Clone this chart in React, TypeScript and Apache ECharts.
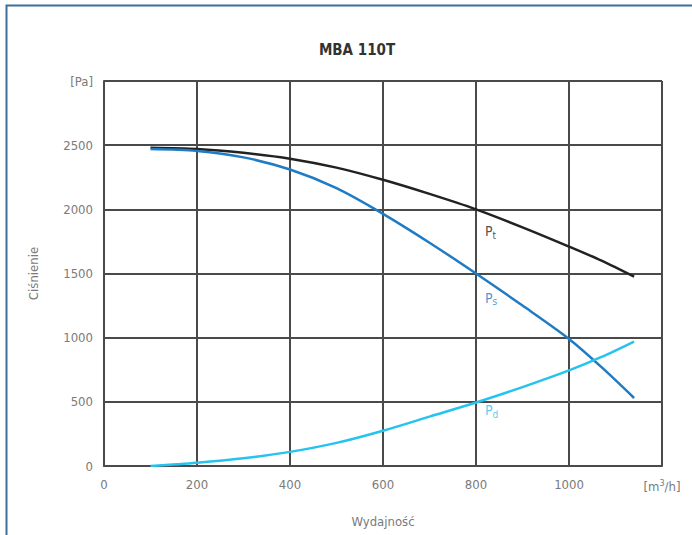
import React, { useEffect, useRef } from "react";
import * as echarts from "echarts";

// Flow rate [m³/h]
const flow = [100, 200, 300, 400, 500, 600, 700, 800, 900, 1000, 1070, 1140];
// Total pressure Pt [Pa]
const pTotal = [2480, 2470, 2440, 2395, 2325, 2230, 2120, 2000, 1860, 1710, 1600, 1475];
// Static pressure Ps [Pa]
const pStatic = [2470, 2455, 2405, 2310, 2165, 1965, 1740, 1500, 1250, 990, 770, 530];
// Dynamic pressure Pd [Pa]
const pDynamic = [0, 25, 60, 110, 180, 275, 385, 495, 615, 745, 850, 970];

const xTicks = [0, 200, 400, 600, 800, 1000, 1200];
const yTicks = [0, 500, 1000, 1500, 2000, 2500, 3000];

const FONT = "'DejaVu Sans Condensed', 'Liberation Sans Narrow', sans-serif";
const TEXT = "#7a7a7a";
const GRID = "#4a4a4a";
const C_T = "#222222";
const C_S = "#1f7cc4";
const C_D = "#27c3ef";

const pair = (xs: number[], ys: number[]) => xs.map((x, i) => [x, ys[i]]);

export default function App() {
  const ref = useRef<HTMLDivElement>(null);

  useEffect(() => {
    if (!ref.current) return;
    const chart = echarts.init(ref.current, undefined, { renderer: "svg" });

    // Curve name with subscript, anchored next to a data position
    const subLabel = (name: string, sub: string, color: string, at: number[]) => ({
      type: "scatter",
      data: [at],
      symbolSize: 0,
      silent: true,
      label: {
        show: true,
        position: "right",
        offset: [4, 0],
        formatter: `{p|${name}}{s|${sub}}`,
        rich: {
          p: { color, fontFamily: FONT, fontSize: 14 },
          s: { color, fontFamily: FONT, fontSize: 10, padding: [8, 0, 0, 0] },
        },
      },
    });

    const curve = (ys: number[], color: string) => ({
      type: "line",
      data: pair(flow, ys),
      smooth: 0.3,
      showSymbol: false,
      lineStyle: { color, width: 2.5 },
      z: 3,
    });

    chart.setOption({
      animation: false,
      title: {
        text: "MBA 110T",
        left: 352,
        textAlign: "center",
        top: 37,
        textStyle: { fontFamily: FONT, fontSize: 15, fontWeight: "bold", color: "#333" },
      },
      graphic: [
        {
          type: "rect",
          shape: { x: 6.5, y: 5.5, width: 720, height: 600 },
          style: { fill: "none", stroke: "#3d6f9e", lineWidth: 2 },
          silent: true,
        },
      ],
      grid: { left: 104, right: 30, top: 81, bottom: 69 },
      xAxis: {
        type: "value",
        min: 0,
        max: 1200,
        interval: 200,
        name: "Wydajność",
        nameLocation: "middle",
        nameGap: 49,
        nameTextStyle: { fontFamily: FONT, fontSize: 13, color: TEXT },
        axisLine: { show: true, lineStyle: { color: GRID, width: 2 } },
        axisTick: { show: false },
        splitLine: { show: true, lineStyle: { color: GRID, width: 2 } },
        axisLabel: {
          margin: 12,
          fontFamily: FONT,
          fontSize: 13,
          color: TEXT,
          formatter: (v: number) => (v === xTicks[xTicks.length - 1] ? "[m{sup|3}/h]" : String(v)),
          rich: { sup: { fontSize: 9, color: TEXT, fontFamily: FONT, padding: [0, 0, 7, 0] } },
        },
      },
      yAxis: {
        type: "value",
        min: 0,
        max: 3000,
        interval: 500,
        name: "Ciśnienie",
        nameLocation: "middle",
        nameRotate: 90,
        nameGap: 64,
        nameTextStyle: { fontFamily: FONT, fontSize: 13, color: TEXT },
        axisLine: { show: true, lineStyle: { color: GRID, width: 2 } },
        axisTick: { show: false },
        splitLine: { show: true, lineStyle: { color: GRID, width: 2 } },
        axisLabel: {
          margin: 11,
          fontFamily: FONT,
          fontSize: 13,
          color: TEXT,
          formatter: (v: number) => (v === yTicks[yTicks.length - 1] ? "[Pa]" : String(v)),
        },
      },
      series: [
        curve(pTotal, C_T),
        curve(pStatic, C_S),
        curve(pDynamic, C_D),
        subLabel("P", "t", C_T, [800, 1830]),
        subLabel("P", "s", C_S, [800, 1310]),
        subLabel("P", "d", C_D, [800, 436]),
      ],
    });

    return () => chart.dispose();
  }, []);

  return <div ref={ref} style={{ width: 692, height: 535, position: "absolute", left: 0, top: 0 }} />;
}
